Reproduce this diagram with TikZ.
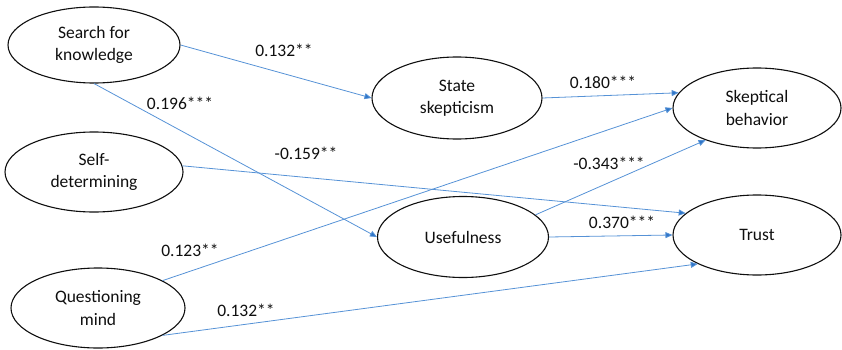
\documentclass[tikz,border=0pt]{standalone}
\usepackage{fontspec}
\setmainfont{Carlito}
\usetikzlibrary{arrows.meta, shapes.geometric}
\definecolor{linec}{RGB}{86,146,214}
\definecolor{tipc}{RGB}{46,117,200}
\definecolor{inkc}{RGB}{15,15,15}
\tikzset{
  construct/.style={
    ellipse, draw=inkc, line width=1.1pt, fill=white, inner sep=0pt,
    align=center, text=inkc, font=\fontsize{17.5}{22.5}\selectfont
  },
  path/.style={-{Triangle[length=7pt, width=6pt, fill=tipc]}, draw=linec, line width=0.8pt},
  coef/.style={font=\fontsize{17.5}{21}\selectfont, text=inkc, inner sep=0pt},
}

\begin{document}
\begin{tikzpicture}[x=1pt, y=-1pt]

  \useasboundingbox (0,0) rectangle (842,350);

  % predictors
  \node[construct, minimum width=172pt, minimum height=76pt] (search) at (94,45) {Search for\\knowledge};
  \node[construct, minimum width=178pt, minimum height=80pt] (self) at (94,172) {Self-\\determining};
  \node[construct, minimum width=174pt, minimum height=80pt] (quest) at (98,308) {Questioning\\mind};

  % mediators
  \node[construct, minimum width=170pt, minimum height=82pt] (state) at (457,98) {State\\skepticism};
  \node[construct, minimum width=171pt, minimum height=81pt] (use) at (463,237) {Usefulness};

  % outcomes
  \node[construct, minimum width=168pt, minimum height=80pt] (skep) at (757,108) {Skeptical\\behavior};
  \node[construct, minimum width=168pt, minimum height=80pt] (trust) at (757,235) {Trust};

  \draw[path] (search.east) -- (state.west);
  \draw[path] (search.south) -- (use.west);
  \draw[path] (self.4) -- (trust.163);
  \draw[path] (quest.23) -- (skep.west);
  \draw[path] (quest.337) -- (trust.206);
  \draw[path] (state.east) -- (skep.169);
  \draw[path] (use.17) -- (skep.212);
  \draw[path] (use.east) -- (trust.west);

  \node[coef] (c1) at (284,50) {0.132**};
  \node[coef] (c2) at (180,103) {0.196***};
  \node[coef] (c3) at (306,153) {-0.159**};
  \node[coef] (c4) at (190,250) {0.123**};
  \node[coef] (c5) at (246,310) {0.132**};
  \node[coef] (c6) at (603,82) {0.180***};
  \node[coef] (c7) at (609,163) {-0.343***};
  \node[coef] (c8) at (622,222) {0.370***};

\end{tikzpicture}
\end{document}
